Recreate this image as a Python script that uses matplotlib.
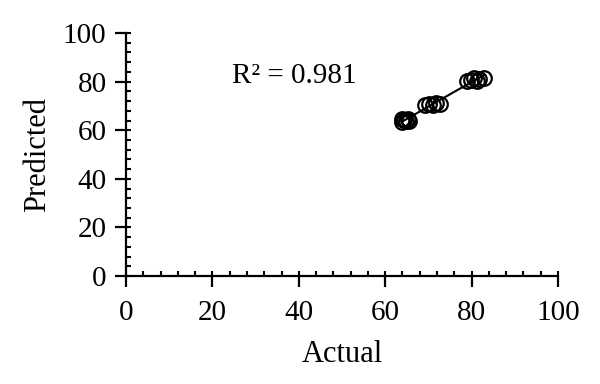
import numpy as np
import matplotlib
matplotlib.use("Agg")
import matplotlib.pyplot as plt
from matplotlib.ticker import MultipleLocator

actual = [63.8, 64.3, 64.8, 65.2, 65.6, 64.0,
          69.3, 70.2, 71.0, 71.8, 72.6,
          79.0, 79.8, 80.5, 81.2, 81.8, 82.8]
predicted = [63.5, 64.2, 63.8, 64.5, 64.0, 64.8,
             70.2, 71.0, 70.5, 71.2, 70.6,
             80.2, 80.8, 81.5, 80.3, 81.0, 81.6]
r2_label = "R² = 0.981"
x_label = "Actual"
y_label = "Predicted"

plt.rcParams['font.family'] = ['Liberation Serif', 'DejaVu Serif']

fig = plt.figure(figsize=(6, 3.84), dpi=100)
ax = fig.add_axes([0.21, 0.281, 0.72, 0.633])

x = np.array(actual)
y = np.array(predicted)
ax.plot(x, y, linestyle='none', marker='o', markersize=10.5,
        markerfacecolor='none', markeredgecolor='black', markeredgewidth=1.6)
k, b = np.polyfit(x, y, 1)
xs = np.array([x.min(), x.max()])
ax.plot(xs, k * xs + b, color='black', linewidth=1.5)

ax.set_xlim(0, 100)
ax.set_ylim(0, 100)
ax.xaxis.set_major_locator(MultipleLocator(20))
ax.yaxis.set_major_locator(MultipleLocator(20))
ax.xaxis.set_minor_locator(MultipleLocator(4))
ax.yaxis.set_minor_locator(MultipleLocator(4))
ax.xaxis.remove_overlapping_locs = False
ax.yaxis.remove_overlapping_locs = False
for s in ['top', 'right']:
    ax.spines[s].set_visible(False)
for s in ['left', 'bottom']:
    ax.spines[s].set_linewidth(1.6)
ax.tick_params(which='major', direction='out', length=8, width=1.6,
               labelsize=21, pad=6)
ax.tick_params(axis='x', which='major', pad=9)
ax.tick_params(which='minor', direction='in', length=3.8, width=1.5)
ax.set_xlabel(x_label, fontsize=22, labelpad=10)
ax.set_ylabel(y_label, fontsize=22, labelpad=8)
ax.text(24.5, 82.5, r2_label, fontsize=21, ha='left', va='center')

fig.savefig("out.png", dpi=100)
